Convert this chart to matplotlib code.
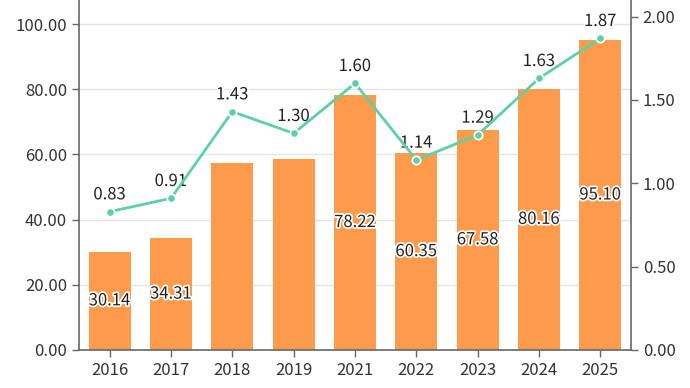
import matplotlib
matplotlib.use("Agg")
import matplotlib.pyplot as plt
import matplotlib.patheffects as pe
import numpy as np

plt.rcParams['font.family'] = ['Noto Sans CJK SC', 'DejaVu Sans']

years = ["2016", "2017", "2018", "2019", "2021", "2022", "2023", "2024", "2025"]
bar_values = [30.14, 34.31, 57.3, 58.7, 78.22, 60.35, 67.58, 80.16, 95.10]
bar_labels = ["30.14", "34.31", "", "", "78.22", "60.35", "67.58", "80.16", "95.10"]
line_values = [0.83, 0.91, 1.43, 1.30, 1.60, 1.14, 1.29, 1.63, 1.87]
left_ticks = [0, 20, 40, 60, 80, 100]
right_ticks = [0, 0.5, 1.0, 1.5, 2.0]

bar_color = "#FD9A4C"
line_color = "#5DD0A6"
text_color = "#333333"
spine_color = "#666666"
fs = 12

fig = plt.figure(figsize=(6.9, 3.88), dpi=100)
ax = fig.add_axes([0.1145, 0.098, 0.80, 0.902])
x = np.arange(len(years))

ax.bar(x, bar_values, width=0.69, color=bar_color, zorder=2)
ax.set_xlim(-0.5, len(years) - 0.5)
ax.set_ylim(0, 107.4)
ax.set_yticks(left_ticks)
ax.set_yticklabels([f"{v:.2f}" for v in left_ticks])
ax.set_xticks(x)
ax.set_xticklabels(years)
ax.grid(axis='y', color="#e4e4e4", linewidth=1, zorder=0)
ax.set_axisbelow(True)

for xi, v, lab in zip(x, bar_values, bar_labels):
    if lab:
        ax.text(xi, v / 2, lab, ha='center', va='center', fontsize=fs,
                color="#222222", zorder=5,
                path_effects=[pe.withStroke(linewidth=2.5, foreground='white')])

ax2 = ax.twinx()
ax2.set_ylim(0, 2.10)
ax2.set_yticks(right_ticks)
ax2.set_yticklabels([f"{v:.2f}" for v in right_ticks])
ax2.plot(x, line_values, color=line_color, linewidth=2, marker='o', markersize=6,
         markerfacecolor=line_color, markeredgecolor='white', markeredgewidth=1.2, zorder=4)
for xi, v in zip(x, line_values):
    ax2.annotate(f"{v:.2f}", (xi, v), xytext=(0, 6), textcoords='offset points',
                 ha='center', va='bottom', fontsize=fs, color="#222222",
                 path_effects=[pe.withStroke(linewidth=2.5, foreground='white')])

for a in (ax, ax2):
    a.spines['top'].set_visible(False)
    for s in ('left', 'right', 'bottom'):
        a.spines[s].set_color(spine_color)
        a.spines[s].set_linewidth(1.2)
    a.tick_params(colors=spine_color, labelcolor=text_color, labelsize=fs, length=5, width=1)

ax.spines['right'].set_visible(False)
ax2.spines['left'].set_visible(False)
ax2.spines['bottom'].set_visible(False)

fig.savefig("out.png", dpi=100)
